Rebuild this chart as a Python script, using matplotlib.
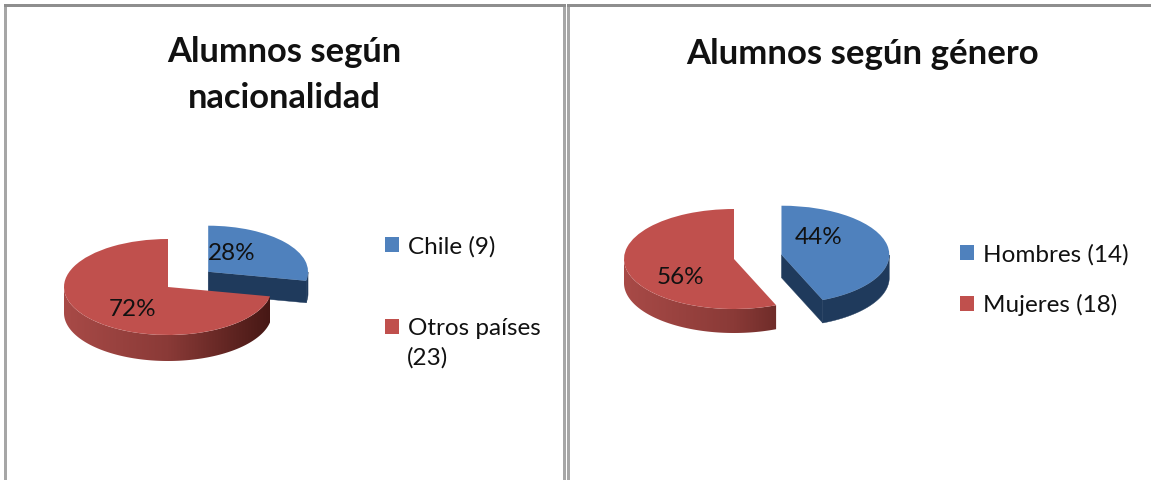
import numpy as np
import matplotlib
matplotlib.use("Agg")
import matplotlib.pyplot as plt
from matplotlib.patches import Rectangle, Polygon
from matplotlib.colors import LinearSegmentedColormap

plt.rcParams['font.family'] = ['Lato', 'DejaVu Sans']

W, H = 1151, 480

# --- data ---
titles = ["Alumnos según\nnacionalidad", "Alumnos según género"]
nat_labels = ["Chile (9)", "Otros países\n(23)"]
nat_values = [9, 23]
gen_labels = ["Hombres (14)", "Mujeres (18)"]
gen_values = [14, 18]

BLUE, RED = "#4F81BD", "#C0504D"
NAVY = "#1F3A5C"
RED_L, RED_D = "#A84A47", "#451714"
TXT = "#111111"
SIDE = LinearSegmentedColormap.from_list("side", [RED_L, "#8A3A37", RED_D])

fig = plt.figure(figsize=(W / 100, H / 100), dpi=100, facecolor="white")


def px_rect(x0, y0, x1, y1):
    return [x0 / W, 1 - y1 / H, (x1 - x0) / W, (y1 - y0) / H]


def frame_bar(a, b, c, d, col):
    fig.add_artist(Rectangle((a / W, 1 - d / H), (c - a) / W, (d - b) / H,
                             transform=fig.transFigure, fc=col, ec="none"))


def pie3d(values, labels, explode, blue_scale, blue_depth, cx, cy, rx, ry, depth, label_px,
          legend_xy, labelspacing):
    # axes in units of the pie radius, squashed into an ellipse
    ext = 1.9
    ax = fig.add_axes(px_rect(cx - ext * rx, cy - ext * ry, cx + ext * rx, cy + ext * ry))
    ax.patch.set_alpha(0)
    fracs = np.asarray(values, float) / sum(values)
    start = 90.0
    for i, f in enumerate(fracs):
        end = start - 360 * f
        mid = np.radians((start + end) / 2)
        ox, oy = explode[i] * np.cos(mid), explode[i] * np.sin(mid)
        r = blue_scale if i == 0 else 1.0
        d = (blue_depth if i == 0 else depth) / ry
        th = np.radians(np.linspace(start, end, 360))
        th = th[np.sin(th) <= 0.0]
        ax_pts = np.cos(th) * r + ox, np.sin(th) * r + oy
        outline = np.column_stack([
            np.r_[ax_pts[0], ax_pts[0][::-1]],
            np.r_[ax_pts[1], ax_pts[1][::-1] - d],
        ])
        if i == 0:
            ex, ey = np.cos(th[-1]) * r, np.sin(th[-1]) * r
            ax.fill([ox, ox + ex, ox + ex, ox], [oy, oy + ey, oy + ey - d, oy - d],
                    fc=NAVY, ec=NAVY, lw=0.3, zorder=0)
            ax.add_patch(Polygon(outline, closed=True, fc=NAVY, ec=NAVY, lw=0.3, zorder=0))
        else:
            clip = Polygon(outline, closed=True, fc="none", ec="none", transform=ax.transData)
            ax.add_patch(clip)
            grad = np.linspace(0, 1, 256).reshape(1, -1)
            im = ax.imshow(grad, extent=[ox - 1, ox + 1, -1.9, 1.9], cmap=SIDE,
                           aspect='auto', zorder=2, interpolation='bilinear')
            im.set_clip_path(clip)
        start = end

    wedges, _, autos = ax.pie(values, explode=explode, startangle=90, counterclock=False,
                              radius=1, colors=[BLUE, RED], autopct='%.0f%%',
                              wedgeprops=dict(linewidth=0))
    wedges[0].set_radius(blue_scale)
    wedges[0].set_zorder(1)
    wedges[1].set_zorder(3)
    ax.set_aspect('auto')
    ax.set_xlim(-ext, ext)
    ax.set_ylim(-ext, ext)
    ax.axis('off')
    for t, (x, y) in zip(autos, label_px):
        t.set_position(((x - cx) / rx, (cy - y) / ry))
        t.set_fontsize(17.5)
        t.set_color(TXT)
        t.set_zorder(5)
        t.set_ha('center')
        t.set_va('center')

    first_lines = [s.split("\n")[0] for s in labels]
    fig.legend(wedges, first_lines, loc='upper left',
               bbox_to_anchor=(legend_xy[0] / W, 1 - legend_xy[1] / H),
               frameon=False, fontsize=17.5, labelcolor=TXT, borderpad=0, borderaxespad=0,
               handlelength=0.58, handleheight=0.58, handletextpad=0.36,
               labelspacing=labelspacing)


# panel frames: open at the bottom, and no line on the far right edge
for a, b, c, d in [(4, 7, 7, H), (563, 7, 566, H), (567, 7, 570, H)]:
    frame_bar(a, b, c, d, "#A6A6A6")
for a, b, c, d in [(4, 4, 566, 7), (567, 4, W, 7)]:
    frame_bar(a, b, c, d, "#8E8E8E")

fig.text(284 / W, 1 - 75 / H, titles[0], ha='center', va='center', fontsize=24.8,
         fontweight='bold', color=TXT, linespacing=1.5)
fig.text(862 / W, 1 - 54 / H, titles[1], ha='center', va='center', fontsize=25,
         fontweight='bold', color=TXT)

pie3d(nat_values, nat_labels, [0.5, 0], 0.96, 22, 168, 287, 104, 48, 26,
      [(232, 254), (133, 310)], (385, 236), 2.5)
pie3d(gen_values, gen_labels, [0.44, 0], 0.98, 23, 734, 259, 110, 50, 24,
      [(819, 237), (680, 277)], (960, 244), 1.18)

fig.text(407 / W, 1 - 358 / H, nat_labels[1].split("\n")[1], ha='left', va='center',
         fontsize=17.5, color=TXT)

fig.savefig("out.png", dpi=100)
